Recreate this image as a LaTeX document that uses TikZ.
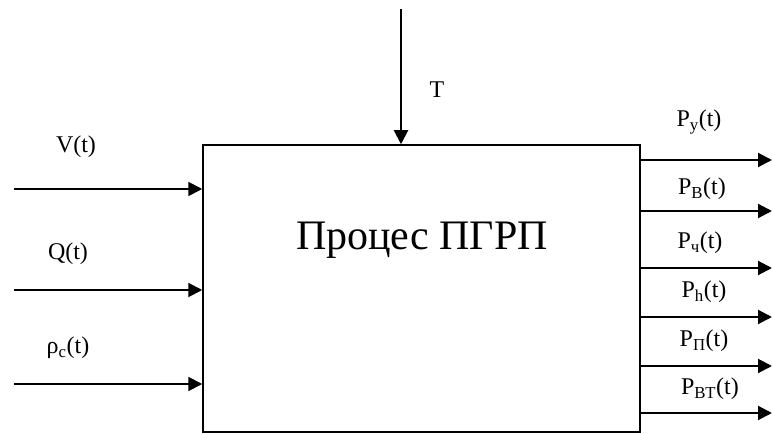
\documentclass[tikz,border=0pt]{standalone}
\usepackage{fontspec}
\setmainfont{Liberation Serif}
\usetikzlibrary{arrows.meta}
\begin{document}
\begin{tikzpicture}[x=1pt,y=1pt,
  arr/.style={line width=2pt,-{Triangle[length=14pt,width=14pt]}},
  lbl/.style={inner sep=0pt,font=\fontsize{24}{28}\selectfont},
  box/.style={draw,line width=1.5pt,minimum width=437pt,minimum height=287pt,inner sep=0pt}]
\useasboundingbox (0,0) rectangle (772,434);
\node[box] (box) at (421.5,145.5) {};
\node[inner sep=0pt,font=\fontsize{42}{48}\selectfont] (title) at (422,194) {Процес ПГРП};
% top input
\coordinate (t0) at (401,425);
\draw[arr] (t0) -- (t0 |- box.north);
\node[lbl] (T) at (437,344) {T};
% left inputs
\coordinate (v0) at (14,245);
\coordinate (q0) at (14,144);
\coordinate (r0) at (14,50);
\draw[arr] (v0) -- (v0 -| box.west);
\draw[arr] (q0) -- (q0 -| box.west);
\draw[arr] (r0) -- (r0 -| box.west);
\node[lbl] (V) at (76,287) {V(t)};
\node[lbl] (Q) at (68,180) {Q(t)};
\node[lbl] (rho) at (68,86) {ρ\textsubscript{с}(t)};
% right outputs
\coordinate (o1) at (772,274);
\coordinate (o2) at (772,223);
\coordinate (o3) at (772,166);
\coordinate (o4) at (772,117);
\coordinate (o5) at (772,68);
\coordinate (o6) at (772,21);
\draw[arr] (o1 -| box.east) -- (o1);
\draw[arr] (o2 -| box.east) -- (o2);
\draw[arr] (o3 -| box.east) -- (o3);
\draw[arr] (o4 -| box.east) -- (o4);
\draw[arr] (o5 -| box.east) -- (o5);
\draw[arr] (o6 -| box.east) -- (o6);
\node[lbl] (p1) at (699,312) {P\textsubscript{у}(t)};
\node[lbl] (p2) at (702,245) {P\textsubscript{В}(t)};
\node[lbl] (p3) at (700,191) {P\textsubscript{ч}(t)};
\node[lbl] (p4) at (704,142) {P\textsubscript{h}(t)};
\node[lbl] (p5) at (704,93) {P\textsubscript{П}(t)};
\node[lbl] (p6) at (710,45) {P\textsubscript{ВТ}(t)};
\end{tikzpicture}
\end{document}
